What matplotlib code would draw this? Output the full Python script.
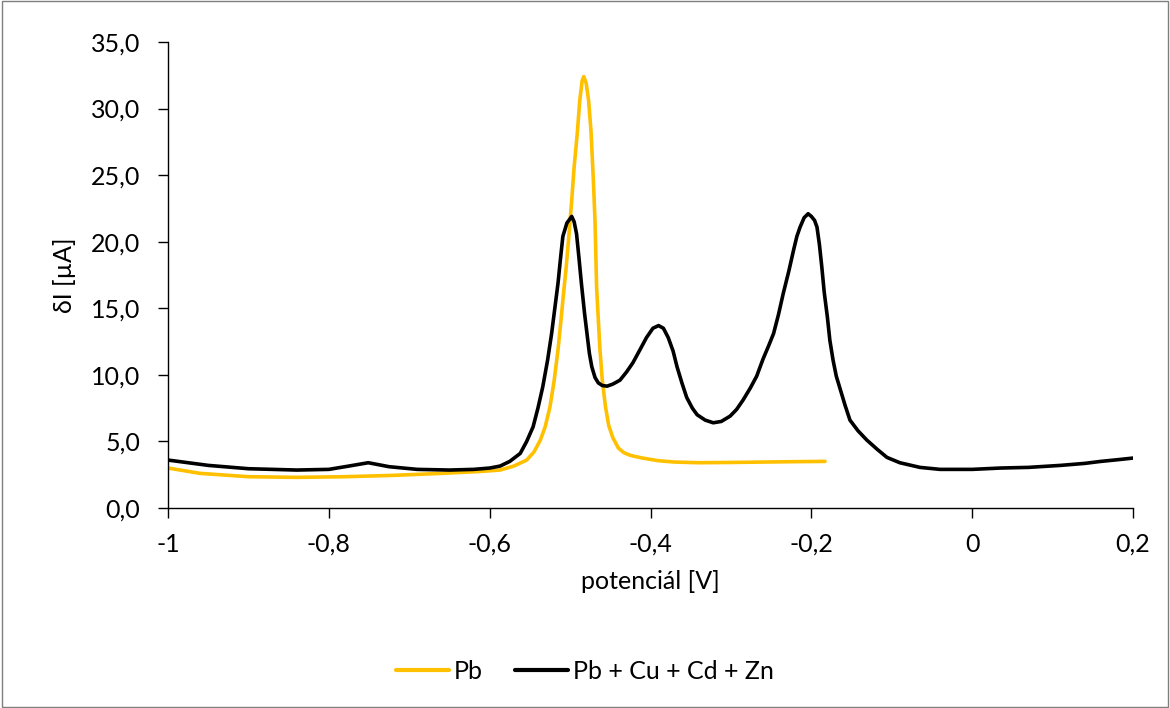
import matplotlib
matplotlib.use("Agg")
import matplotlib.pyplot as plt
from matplotlib.patches import Rectangle
from matplotlib.ticker import FuncFormatter

# ---- data ----
pb_x = [-1, -0.96, -0.9, -0.84, -0.78, -0.72, -0.66, -0.61, -0.587, -0.57, -0.554, -0.545,
        -0.537, -0.531, -0.525, -0.52, -0.515, -0.512, -0.509, -0.505, -0.502, -0.498,
        -0.495, -0.491, -0.488, -0.485, -0.483, -0.480, -0.477, -0.474, -0.471, -0.469,
        -0.467, -0.463, -0.46, -0.456, -0.452, -0.447, -0.44, -0.433, -0.425, -0.41,
        -0.39, -0.37, -0.34, -0.30, -0.26, -0.22, -0.183]
pb_y = [3.0, 2.6, 2.35, 2.3, 2.35, 2.45, 2.6, 2.75, 2.85, 3.15, 3.6, 4.2,
        5.1, 6.1, 7.6, 9.5, 11.9, 13.7, 15.6, 18.0, 20.1, 23.1,
        25.6, 28.2, 30.6, 32.1, 32.4, 31.9, 30.6, 28.3, 24.5, 21.5,
        16.5, 12.0, 9.6, 7.6, 6.2, 5.3, 4.5, 4.15, 3.95, 3.75,
        3.55, 3.45, 3.4, 3.42, 3.45, 3.48, 3.5]

mix_x = [-1, -0.95, -0.9, -0.84, -0.8, -0.775, -0.751, -0.725, -0.69, -0.65, -0.62, -0.6,
         -0.587, -0.575, -0.562, -0.554, -0.546, -0.54, -0.534, -0.528, -0.523, -0.519,
         -0.515, -0.512, -0.509, -0.504, -0.498, -0.495, -0.492, -0.489, -0.486, -0.482,
         -0.479, -0.476, -0.473, -0.469, -0.465, -0.46, -0.454, -0.447, -0.438, -0.43,
         -0.422, -0.413, -0.405, -0.397, -0.39, -0.384, -0.378, -0.372, -0.367, -0.361,
         -0.355, -0.348, -0.342, -0.332, -0.322, -0.312, -0.301, -0.293, -0.285, -0.276,
         -0.268, -0.26, -0.253, -0.247, -0.241, -0.235, -0.228, -0.222, -0.218, -0.214,
         -0.209, -0.204, -0.2, -0.196, -0.193, -0.19, -0.187, -0.184, -0.18, -0.177,
         -0.173, -0.169, -0.164, -0.158, -0.152, -0.142, -0.131, -0.118, -0.106, -0.09,
         -0.065, -0.04, 0.0, 0.035, 0.07, 0.11, 0.14, 0.16, 0.18, 0.2]
mix_y = [3.6, 3.2, 2.95, 2.85, 2.9, 3.15, 3.4, 3.1, 2.9, 2.85, 2.9, 3.0,
         3.15, 3.5, 4.1, 5.0, 6.1, 7.5, 9.1, 11.1, 13.1, 15.0,
         16.9, 18.7, 20.4, 21.4, 21.9, 21.5, 20.6, 18.8, 16.9, 14.6,
         13.1, 11.6, 10.6, 9.8, 9.4, 9.2, 9.15, 9.3, 9.6, 10.2,
         10.9, 11.9, 12.8, 13.5, 13.7, 13.5, 12.8, 11.8, 10.6, 9.4,
         8.3, 7.5, 7.0, 6.6, 6.4, 6.5, 6.9, 7.4, 8.1, 9.0,
         9.9, 11.2, 12.2, 13.1, 14.5, 16.1, 17.8, 19.4, 20.4, 21.1,
         21.8, 22.1, 21.9, 21.6, 21.1, 19.8, 18.1, 16.2, 14.3, 12.6,
         11.1, 9.9, 8.9, 7.7, 6.6, 5.8, 5.1, 4.4, 3.8, 3.4,
         3.05, 2.9, 2.9, 3.0, 3.05, 3.2, 3.35, 3.5, 3.62, 3.75]

series_labels = ["Pb", "Pb + Cu + Cd + Zn"]
x_ticks = [-1, -0.8, -0.6, -0.4, -0.2, 0, 0.2]
y_ticks = [0, 5, 10, 15, 20, 25, 30, 35]

plt.rcParams['font.family'] = ['Lato', 'DejaVu Sans']
FS = 18

fig = plt.figure(figsize=(11.7, 7.08), dpi=100)
ax = fig.add_axes([0.1436, 0.2825, 0.8248, 0.6582])

ax.plot(pb_x, pb_y, color="#FFC000", lw=2.6, label=series_labels[0],
        solid_capstyle='round', solid_joinstyle='round')
ax.plot(mix_x, mix_y, color="black", lw=2.6, label=series_labels[1],
        solid_capstyle='round', solid_joinstyle='round')

ax.set_xlim(-1, 0.2)
ax.set_ylim(0, 35)
ax.set_xticks(x_ticks)
ax.set_yticks(y_ticks)

def fx(v, pos):
    s = f"{v:.1f}".rstrip('0').rstrip('.')
    if s in ("-0", "0"):
        s = "0"
    return s.replace('.', ',')

ax.xaxis.set_major_formatter(FuncFormatter(fx))
ax.yaxis.set_major_formatter(FuncFormatter(lambda v, p: f"{v:.1f}".replace('.', ',')))

for s in ("top", "right"):
    ax.spines[s].set_visible(False)
for s in ("left", "bottom"):
    ax.spines[s].set_color("black")
    ax.spines[s].set_linewidth(1.0)

ax.tick_params(axis='both', labelsize=FS, colors='black', width=1.0, length=7, direction='out')
ax.tick_params(axis='x', pad=11)
ax.tick_params(axis='y', pad=13)

ax.set_xlabel("potenciál [V]", fontsize=FS, labelpad=10)
ax.set_ylabel("δI [µA]", fontsize=FS, labelpad=12)
ax.yaxis.set_label_coords(-0.095, 0.5)

leg = fig.legend(loc='center', bbox_to_anchor=(0.5, 0.052), ncol=2, frameon=False,
                 fontsize=FS, handlelength=2.1, handletextpad=0.2, columnspacing=1.3)
for line in leg.get_lines():
    line.set_linewidth(3.0)

fig.patches.append(Rectangle((0.0015, 0.002), 0.997, 0.996, transform=fig.transFigure,
                             fill=False, edgecolor="#7f7f7f", lw=1.0))

fig.savefig("out.png", dpi=100)
